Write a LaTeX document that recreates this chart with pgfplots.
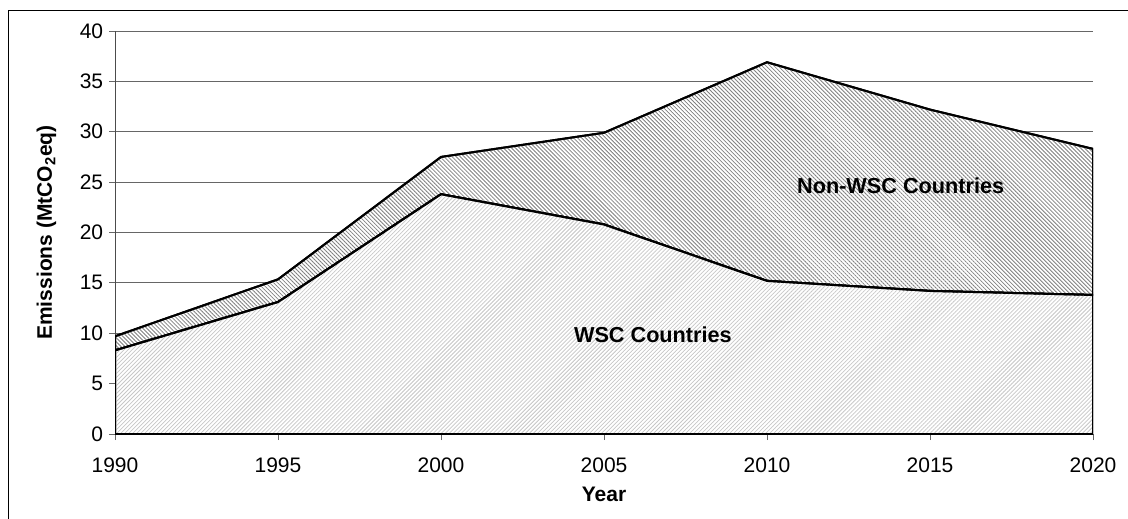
\documentclass[border=0pt]{standalone}
\usepackage{fontspec}
\setmainfont{Liberation Sans}
\usepackage{pgfplots}
\pgfplotsset{compat=1.18}
\usetikzlibrary{patterns.meta}

\begin{document}
\begin{tikzpicture}
\useasboundingbox (0pt,0pt) rectangle (676.8pt,310.8pt);
% outer chart frame (left and top edges visible)
\draw[line width=0.6pt] (4.8pt,-2pt) -- (4.8pt,304.2pt) -- (680pt,304.2pt);
\begin{axis}[
    at={(69pt,50.4pt)}, anchor=south west,
    scale only axis, width=586.8pt, height=241.8pt,
    xmin=1990, xmax=2020, ymin=0, ymax=40,
    xtick={1990,1995,...,2020},
    xticklabels={},
    ytick={0,5,...,40},
    axis lines*=left,
    axis line style={black!70, line width=0.6pt},
    tick align=outside,
    major tick length=3.6pt,
    tick style={black!60, line width=0.6pt},
    ymajorgrids,
    grid style={black!60, line width=0.6pt},
    stack plots=y,
    /pgf/number format/1000 sep={},
    /pgf/number format/assume math mode=true,
    tick label style={font=\fontsize{12.6}{14}\selectfont},
    yticklabel={\pgfmathprintnumber{\tick}\hspace{3pt}},
    xlabel={\bfseries Year},
    ylabel={\bfseries Emissions (MtCO\textsubscript{2}eq)},
    label style={font=\fontsize{12.6}{14}\selectfont},
    xlabel style={at={(axis description cs:0.5,-0.151)}, anchor=center},
    ylabel style={at={(axis description cs:-0.07,0.5)}, anchor=center},
    after end axis/.code={
      \foreach \yr in {1990,1995,...,2020}{
        \node[text=black, font=\fontsize{12.6}{14}\selectfont, yshift=-18.6pt]
          at (axis cs:\yr,0) {\yr};
      }
      \node[text=black, font=\fontsize{13}{15}\selectfont\bfseries] at (axis cs:2006.5,9.9) {WSC Countries};
      \node[text=black, font=\fontsize{13}{15}\selectfont\bfseries] at (axis cs:2014.1,24.6) {Non-WSC Countries};
    },
  ]
  % WSC countries
  \addplot[draw=black, line width=1.2pt, preaction={fill=white},
    pattern={Lines[angle=45, distance=1.7pt, line width=0.45pt]},
    pattern color=black!22] coordinates {
    (1990, 8.3) (1995, 13.1) (2000, 23.8) (2005, 20.8)
    (2010, 15.2) (2015, 14.2) (2020, 13.8)
  } \closedcycle;
  % Non-WSC countries (stacked on top)
  \addplot[draw=black, line width=1.2pt, preaction={fill=white},
    pattern={Lines[angle=-45, distance=1.7pt, line width=0.5pt]},
    pattern color=black!50] coordinates {
    (1990, 1.4) (1995, 2.25) (2000, 3.7) (2005, 9.1)
    (2010, 21.7) (2015, 18.0) (2020, 14.5)
  } \closedcycle;
\end{axis}
\end{tikzpicture}
\end{document}
